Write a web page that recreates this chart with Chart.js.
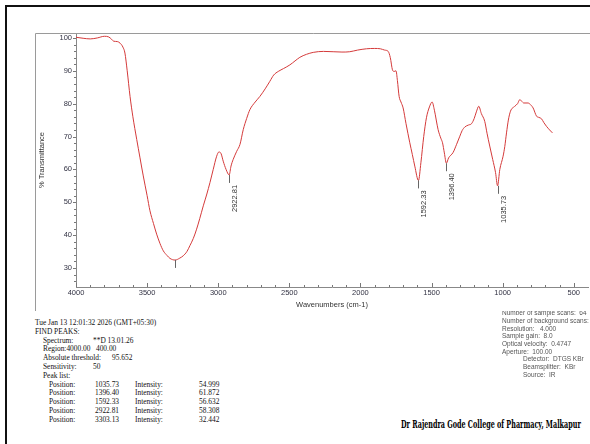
<!DOCTYPE html>
<html>
<head>
<meta charset="utf-8">
<script src="https://cdn.jsdelivr.net/npm/chart.js@4.4.1/dist/chart.umd.min.js"></script>
<style>
html, body { margin: 0; padding: 0; background: #fff; }
body { width: 590px; height: 444px; position: relative; overflow: hidden; }
#frame { position: absolute; left: 5px; top: 5px; width: 620px; height: 470px;
         border-left: 2px solid #111; border-top: 2px solid #111; }
#wrap { position: absolute; left: 0; top: 0; width: 590px; height: 312px; }
.rep { position: absolute; font-family: "Liberation Serif", "Times New Roman", serif;
       font-size: 7.4px; line-height: 9px; color: #111; white-space: pre; }
#inst { position: absolute; left: 0; top: 311px; width: 590px; height: 80px; overflow: hidden; }
.inst { position: absolute; font-family: "Liberation Sans", Arial, sans-serif;
        font-size: 6.5px; line-height: 8px; color: #555; white-space: pre; }
#college { position: absolute; left: 401px; top: 418px; transform-origin: 0 0;
           font-family: "DejaVu Serif Condensed", "DejaVu Serif", serif; font-weight: bold;
           font-size: 11px; line-height: 13px; color: #000; white-space: pre; }
</style>
</head>
<body>
<div id="frame"></div>
<div id="wrap"><canvas id="ftir" width="590" height="312"></canvas></div>
<div id="report"></div>
<div id="inst"></div>
<div id="college">Dr Rajendra Gode College of Pharmacy, Malkapur</div>
<script>
// spectrum (wavenumber cm-1 / % transmittance)
var wavenumbers = [4000, 3950, 3900, 3850, 3800, 3770, 3750, 3735, 3710, 3690, 3670, 3656, 3640, 3620, 3600,
  3573, 3550, 3527, 3500, 3480, 3455, 3433, 3410, 3386, 3360, 3339, 3303, 3270, 3246, 3220, 3199, 3175, 3152,
  3130, 3105, 3080, 3058, 3035, 3011, 2995, 2980, 2965, 2945, 2923, 2910, 2895, 2870, 2847, 2824, 2800, 2777,
  2740, 2707, 2670, 2637, 2610, 2578, 2540, 2496, 2460, 2426, 2380, 2332, 2260, 2192, 2130, 2075, 2020, 1957,
  1900, 1860, 1830, 1805, 1790, 1775, 1763, 1750, 1740, 1728, 1715, 1700, 1680, 1653, 1635, 1618, 1592, 1575,
  1555, 1536, 1515, 1496, 1480, 1454, 1435, 1423, 1410, 1396, 1380, 1349, 1325, 1301, 1285, 1266, 1240, 1219,
  1200, 1185, 1168, 1150, 1126, 1110, 1091, 1070, 1050, 1036, 1020, 997, 985, 973, 960, 945, 915, 895, 880,
  865, 852, 822, 800, 786, 762, 745, 727, 710, 692, 670, 650];
var transmittance = [100.2, 99.9, 99.7, 100.0, 100.5, 100.3, 99.6, 99.0, 98.9, 98.4, 97.2, 95.4, 90, 82.2, 76,
  69.1, 63.5, 58, 52, 47.4, 43.5, 40.3, 37.5, 35.2, 33.8, 32.9, 32.4, 33, 33.7, 35, 36.8, 39, 41.8,
  45, 48.9, 52.5, 56, 60, 64, 65.3, 64.8, 62.5, 60, 58.3, 61, 63, 65.5, 67.6, 72.1, 75.5, 78.2,
  80.5, 82.2, 84.5, 86.8, 88.7, 89.8, 90.7, 91.8, 93, 94.1, 95, 95.6, 95.9, 95.8, 95.7, 95.8, 96.3, 96.7,
  96.8, 96.7, 96.3, 95.9, 94, 90.3, 89.8, 90, 87, 82.2, 80.5, 78.7, 74, 68.1, 64.5, 61, 56.6, 62,
  70, 75.7, 79, 80.5, 78, 72.1, 69.5, 68.1, 65, 61.9, 63.5, 65.1, 67.5, 70.1, 71.8, 72.9, 73.5, 73.9,
  75.5, 77.5, 79.2, 77, 74.6, 71, 67.1, 63, 59, 55.0, 60, 64, 67, 71.1, 75, 77.7, 79.2, 80, 81.2,
  80.7, 80.2, 80.2, 79.5, 78.7, 76.2, 75.8, 75.4, 74.2, 73.1, 72, 71.1];

var peakPos = [1035.73, 1396.40, 1592.33, 2922.81, 3303.13];
var peakInt = [54.999, 61.872, 56.632, 58.308, 32.442];
var peakShown = [true, true, true, true, false];

var xTicks = [4000, 3500, 3000, 2500, 2000, 1500, 1000, 500];
var yTicks = [30, 40, 50, 60, 70, 80, 90, 100];

var points = wavenumbers.map(function(w, i) { return { x: w, y: transmittance[i] }; });
var tickFont = { family: 'Liberation Sans, Arial, sans-serif', size: 7.5 };

var decor = {
  id: 'decor',
  afterDraw: function(chart) {
    var c = chart.ctx, xs = chart.scales.x, ys = chart.scales.y, a = chart.chartArea;
    c.save();
    // outer grey box
    c.strokeStyle = '#9a9a9a';
    c.lineWidth = 1;
    c.beginPath();
    c.moveTo(35.5, 311); c.lineTo(35.5, 33.5); c.lineTo(600, 33.5);
    c.stroke();
    // minor ticks
    c.strokeStyle = '#777';
    c.beginPath();
    for (var v = 26; v <= 100; v += 2) {
      var py = Math.round(ys.getPixelForValue(v)) + 0.5;
      var len = (v % 10 === 0) ? 3 : 2;
      c.moveTo(a.left - len, py); c.lineTo(a.left, py);
    }
    for (var w = 500; w <= 4000; w += 100) {
      var px = Math.round(xs.getPixelForValue(w)) + 0.5;
      var l2 = (w % 500 === 0) ? 4 : 2;
      c.moveTo(px, a.bottom); c.lineTo(px, a.bottom - l2);
    }
    c.stroke();
    // peak markers
    c.font = '7.5px "Liberation Sans", Arial, sans-serif';
    c.fillStyle = '#333';
    peakPos.forEach(function(p, i) {
      var px = Math.round(xs.getPixelForValue(p)) + 0.5;
      var py = ys.getPixelForValue(peakInt[i]);
      c.strokeStyle = '#666';
      c.beginPath(); c.moveTo(px, py); c.lineTo(px, py + 8); c.stroke();
      if (peakShown[i]) {
        c.save();
        c.translate(px + 5, py + 10);
        c.rotate(-Math.PI / 2);
        c.textAlign = 'right';
        c.textBaseline = 'middle';
        c.fillText(p.toFixed(2), 0, 0);
        c.restore();
      }
    });
    // axis titles
    c.fillStyle = '#333';
    c.textAlign = 'center';
    c.textBaseline = 'middle';
    c.fillText('Wavenumbers (cm-1)', (a.left + a.right) / 2, 305);
    c.save();
    c.translate(42, (a.top + a.bottom) / 2);
    c.rotate(-Math.PI / 2);
    c.fillText('% Transmittance', 0, 0);
    c.restore();
    c.restore();
  }
};

function plainLabel(v) { return String(v); }

new Chart(document.getElementById('ftir').getContext('2d'), {
  type: 'line',
  data: {
    datasets: [{
      data: points,
      borderColor: '#d43a3a',
      borderWidth: 1,
      pointRadius: 0,
      fill: false,
      cubicInterpolationMode: 'monotone'
    }]
  },
  options: {
    responsive: false,
    animation: false,
    layout: { padding: { top: 33, right: 2, left: 0, bottom: 0 } },
    plugins: { legend: { display: false }, tooltip: { enabled: false } },
    scales: {
      x: {
        type: 'linear', reverse: true, min: 400, max: 4000,
        afterBuildTicks: function(s) { s.ticks = xTicks.map(function(v) { return { value: v }; }); },
        afterFit: function(s) { s.height = 25; },
        grid: { display: false, drawTicks: false },
        border: { display: true, color: '#888' },
        ticks: { font: tickFont, color: '#334', padding: 1.5, maxRotation: 0, autoSkip: false, callback: plainLabel }
      },
      y: {
        min: 24.2, max: 101.5,
        afterBuildTicks: function(s) { s.ticks = yTicks.map(function(v) { return { value: v }; }); },
        afterFit: function(s) { s.width = 76; },
        grid: { display: false, drawTicks: false },
        border: { display: true, color: '#888' },
        ticks: { font: tickFont, color: '#334', padding: 4, autoSkip: false, callback: plainLabel }
      }
    }
  },
  plugins: [decor]
});

// report text below the plot
var report = document.getElementById('report');
function put(parent, cls, x, yc, text, lh) {
  var d = document.createElement('div');
  d.className = cls;
  d.style.left = x + 'px';
  d.style.top = (yc - lh / 2) + 'px';
  d.textContent = text;
  parent.appendChild(d);
}
put(report, 'rep', 35, 322, 'Tue Jan 13 12:01:32 2026 (GMT+05:30)', 9);
put(report, 'rep', 35, 331, 'FIND PEAKS:', 9);
put(report, 'rep', 43, 340, 'Spectrum:', 9);
put(report, 'rep', 93, 340, '**D 13.01.26', 9);
put(report, 'rep', 43, 348.5, 'Region:4000.00   400.00', 9);
put(report, 'rep', 43, 357.5, 'Absolute threshold:', 9);
put(report, 'rep', 112, 357.5, '95.652', 9);
put(report, 'rep', 43, 366, 'Sensitivity:', 9);
put(report, 'rep', 93, 366, '50', 9);
put(report, 'rep', 43, 375, 'Peak list:', 9);
peakPos.forEach(function(p, i) {
  var yc = 384 + i * 8.9;
  put(report, 'rep', 49, yc, 'Position:', 9);
  put(report, 'rep', 95, yc, p.toFixed(2), 9);
  put(report, 'rep', 135, yc, 'Intensity:', 9);
  put(report, 'rep', 199, yc, peakInt[i].toFixed(3), 9);
});

// instrument settings (clipped at the top by the plot box)
var inst = document.getElementById('inst');
var instLines = [
  [502, 313, 'Number of sample scans:  64'],
  [502, 321, 'Number of background scans:  64'],
  [502, 328.5, 'Resolution:   4.000'],
  [502, 336, 'Sample gain:  8.0'],
  [502, 344, 'Optical velocity:  0.4747'],
  [502, 351.5, 'Aperture:  100.00'],
  [523, 359, 'Detector:  DTGS KBr'],
  [523, 367, 'Beamsplitter:  KBr'],
  [523, 375, 'Source:  IR']
];
instLines.forEach(function(l) { put(inst, 'inst', l[0], l[1] - 311, l[2], 8); });

// squeeze the college line to its width in the picture
var col = document.getElementById('college');
col.style.transform = 'scaleX(' + (180 / col.offsetWidth) + ')';
</script>
</body>
</html>
